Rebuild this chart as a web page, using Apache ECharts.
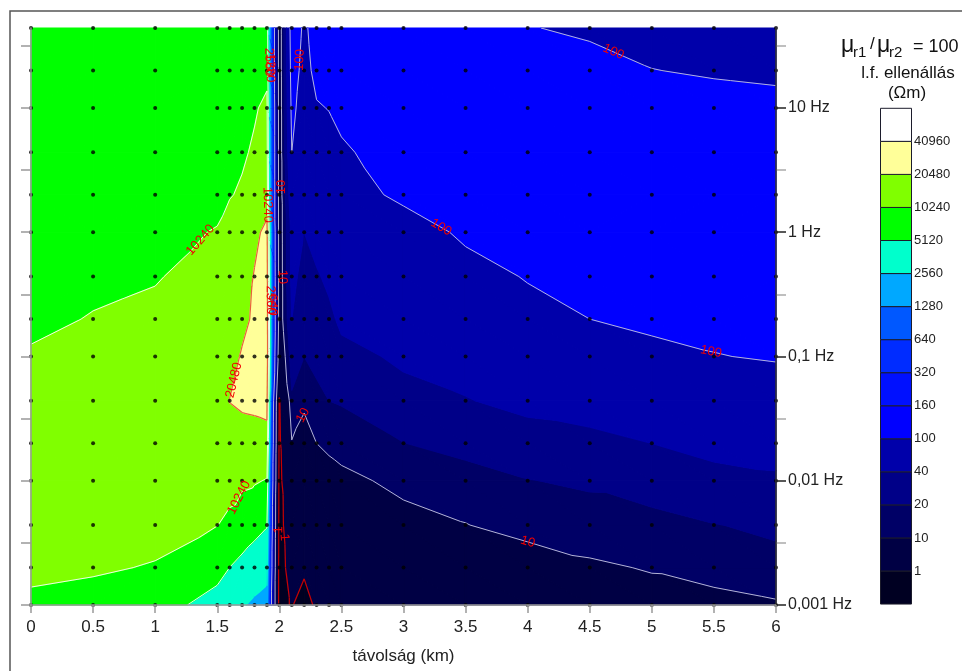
<!DOCTYPE html>
<html>
<head>
<meta charset="utf-8">
<script src="https://cdn.jsdelivr.net/npm/echarts@6/dist/echarts.min.js"></script>
<style>
  html, body { margin: 0; padding: 0; background: #ffffff; }
  #chart { width: 962px; height: 671px; }
</style>
</head>
<body>
<div id="chart"></div>
<script>
// Station distances along the profile (km)
const distances = [0, 0.5, 1, 1.5, 1.6, 1.7, 1.8, 1.9, 2.0, 2.1, 2.2, 2.3, 2.4, 2.5, 3, 3.5, 4, 4.5, 5, 5.5, 6];
// Sounding frequencies (Hz), lowest first
const frequencies = [0.001, 0.002, 0.0044, 0.01, 0.02, 0.044, 0.1, 0.2, 0.44, 1, 2, 4.4, 10, 20, 44];

// Apparent resistivity (Ohm m) at every station, one array per frequency
const rho_f0001 = [9750, 9480, 8500, 3200, 2900, 2700, 2300, 2000, 0.63, 1.12, 0.45, 1.41, 1.8, 2.2, 3.5, 4.5, 4.5, 6.3, 7.6, 7.8, 9.2];
const rho_f0002 = [10800, 10500, 10100, 7800, 5100, 4200, 3600, 3200, 0.63, 1.6, 1.41, 2, 2.5, 3.2, 5, 6.3, 6.7, 9, 10.5, 13.2, 15.8];
const rho_f00044 = [11000, 11300, 11000, 10300, 9500, 7800, 6300, 5300, 0.68, 2.2, 2, 3.2, 4, 5, 7.4, 9.8, 13, 14.3, 14.6, 19.5, 23];
const rho_f001 = [11500, 11800, 12000, 11800, 11500, 11200, 10800, 9900, 0.71, 4, 4, 5.6, 6.9, 7.9, 12.6, 14.5, 19.5, 22.4, 32, 35.5, 38];
const rho_f002 = [11500, 12000, 13000, 14500, 15500, 16000, 16500, 17000, 0.79, 9.5, 7.9, 10, 12, 14, 19.7, 26, 32, 34, 40, 45, 46];
const rho_f0044 = [12000, 12500, 13500, 15000, 20800, 22500, 23000, 24000, 0.9, 18, 11, 16, 20, 21, 35, 39, 46, 52, 60, 68, 71];
const rho_f01 = [10900, 11500, 12500, 14500, 15500, 22000, 26000, 32000, 4, 28, 20, 25, 28, 35, 43, 49, 63, 76, 89, 98, 105];
const rho_f02 = [9000, 10560, 11500, 13500, 14500, 17000, 23000, 30000, 6, 40, 25, 32, 36, 44, 51, 63, 81, 100, 110, 117, 117];
const rho_f044 = [8500, 9000, 9900, 12500, 13000, 14000, 21500, 28000, 6, 48, 32, 38, 44, 52, 60, 79, 104, 126, 132, 135, 132];
const rho_f1 = [8000, 8000, 9000, 10500, 13000, 16000, 17000, 25000, 6, 50, 40, 48, 52, 60, 72, 112, 132, 151, 151, 148, 145];
const rho_f2 = [8100, 8200, 8400, 9000, 9900, 11000, 12000, 14000, 6, 71, 50, 63, 66, 74, 115, 141, 155, 155, 155, 151, 148];
const rho_f44 = [8200, 8300, 8500, 8800, 9100, 9500, 11000, 12500, 6, 100, 60, 76, 79, 92, 135, 155, 155, 151, 145, 141, 138];
const rho_f10 = [8300, 8400, 8500, 8800, 9000, 9300, 9700, 11500, 6, 120, 71, 95, 102, 117, 145, 148, 145, 138, 126, 120, 115];
const rho_f20 = [8200, 8200, 8300, 8400, 8500, 8600, 8700, 8900, 6, 141, 79, 120, 126, 135, 138, 135, 126, 117, 101, 95, 91];
const rho_f440 = [8000, 8000, 8100, 8100, 8200, 8200, 8300, 8000, 6, 158, 89, 132, 132, 126, 126, 120, 102, 93, 83, 79, 76];

// Contour levels (Ohm m) and the fill of each band between them, lowest band first
const levels = [1, 10, 20, 40, 100, 160, 320, 640, 1280, 2560, 5120, 10240, 20480, 40960];
const bandColors = ['#000022', '#000044', '#000066', '#000088', '#0000aa', '#0000ff', '#0010ff',
  '#002cff', '#0058ff', '#00a8ff', '#00ffcc', '#00ff00', '#80ff00', '#ffff99', '#ffffff'];

// Frequency axis labels at each decade
const decadeExponents = [-3, -2, -1, 0, 1];
const decadeLabels = ['0,001 Hz', '0,01 Hz', '0,1 Hz', '1 Hz', '10 Hz'];

// Contour label anchors: [distance km, frequency Hz, level]
const contourLabels = [
  [4.69, 28.2, 100], [3.29, 1.04, 100], [5.48, 0.113, 100], [2.18, 24.3, 100],
  [4.0, 0.00321, 10], [2.15, 0.0351, 10], [2.03, 2.31, 10], [2.03, 0.436, 10],
  [1.345, 0.897, 10240], [1.707, 0.00675, 10240], [1.917, 1.66, 10240],
  [1.627, 0.0647, 20480], [2.0, 0.00402, 1], [2.06, 0.00352, 1],
  [1.92, 23.4, 2560], [1.935, 21, 1280], [1.95, 0.285, 2560], [1.96, 0.26, 640]
];

// ---- field helpers -------------------------------------------------------
const rhoRows = [rho_f0001, rho_f0002, rho_f00044, rho_f001, rho_f002, rho_f0044, rho_f01,
  rho_f02, rho_f044, rho_f1, rho_f2, rho_f44, rho_f10, rho_f20, rho_f440];
const X = distances;
const Y = frequencies.map(f => Math.log10(f));
const LV = rhoRows.map(r => r.map(v => Math.log10(v)));
const LT = levels.map(v => Math.log10(v));

// split each station quad along the diagonal with the smaller jump
function diagAC(i, j) {
  const a = LV[j][i], b = LV[j][i + 1], c = LV[j + 1][i + 1], d = LV[j + 1][i];
  return Math.abs(a - c) <= Math.abs(b - d);
}
const triangles = [];
for (let j = 0; j < Y.length - 1; j++) {
  for (let i = 0; i < X.length - 1; i++) {
    const A = [i, j], B = [i + 1, j], C = [i + 1, j + 1], D = [i, j + 1];
    if (diagAC(i, j)) triangles.push([A, B, C], [A, C, D]);
    else triangles.push([A, B, D], [B, C, D]);
  }
}
function findCell(arr, v) {
  for (let k = 0; k < arr.length - 2; k++) if (v < arr[k + 1]) return k;
  return arr.length - 2;
}
// log-resistivity at (distance, log10 frequency), linear on the triangles
function field(x, y) {
  const i = findCell(X, x), j = findCell(Y, y);
  const u = (x - X[i]) / (X[i + 1] - X[i]), w = (y - Y[j]) / (Y[j + 1] - Y[j]);
  const a = LV[j][i], b = LV[j][i + 1], c = LV[j + 1][i + 1], d = LV[j + 1][i];
  if (diagAC(i, j)) {
    if (u >= w) return a + u * (b - a) + w * (c - b);
    return a + w * (d - a) + u * (c - d);
  }
  if (u + w <= 1) return a + u * (b - a) + w * (d - a);
  return c + (1 - u) * (d - c) + (1 - w) * (b - c);
}
function bandOf(v) {
  let b = 0;
  while (b < LT.length && v >= LT[b]) b++;
  return b;
}
function clip(poly, t, s) {
  const out = [];
  for (let n = 0; n < poly.length; n++) {
    const P = poly[n], Q = poly[(n + 1) % poly.length];
    const pin = s * (P.v - t) >= 0, qin = s * (Q.v - t) >= 0;
    if (pin) out.push(P);
    if (pin !== qin) {
      const r = (t - P.v) / (Q.v - P.v);
      out.push({ x: P.x + r * (Q.x - P.x), y: P.y + r * (Q.y - P.y), v: t });
    }
  }
  return out;
}
function triPoints(api, k) {
  return triangles[k].map(([i, j]) => {
    const p = api.coord([X[i], Y[j]]);
    return { x: p[0], y: p[1], v: LV[j][i] };
  });
}

// filled bands of one triangle
function renderFill(params, api) {
  const pts = triPoints(api, params.dataIndex);
  const vs = pts.map(p => p.v);
  const b0 = bandOf(Math.min(...vs)), b1 = bandOf(Math.max(...vs));
  const children = [];
  for (let b = b0; b <= b1; b++) {
    let poly = pts;
    if (b > 0) poly = clip(poly, LT[b - 1], 1);
    if (b < LT.length) poly = clip(poly, LT[b], -1);
    if (poly.length < 3) continue;
    children.push({
      type: 'polygon',
      shape: { points: poly.map(p => [p.x, p.y]) },
      style: { fill: bandColors[b], stroke: bandColors[b], lineWidth: 1.2, lineJoin: 'round' }
    });
  }
  return { type: 'group', children };
}

// drawn isolines and their strokes
const lineLevels = [1, 10, 100, 5120, 10240, 20480];
const lineStyles = {
  1: { stroke: '#c80000', lineWidth: 1.2 },
  10: { stroke: '#b4b4d4', lineWidth: 1 },
  100: { stroke: '#b4b4d8', lineWidth: 1 },
  5120: { stroke: '#e6fff0', lineWidth: 1 },
  10240: { stroke: '#e6ffe6', lineWidth: 1 },
  20480: { stroke: '#e8603c', lineWidth: 1.2 }
};
function renderLines(params, api) {
  const pts = triPoints(api, params.dataIndex);
  const children = [];
  lineLevels.forEach(lv => {
    const t = Math.log10(lv);
    const cross = [];
    for (let n = 0; n < 3; n++) {
      const P = pts[n], Q = pts[(n + 1) % 3];
      if ((P.v >= t) !== (Q.v >= t)) {
        const r = (t - P.v) / (Q.v - P.v);
        cross.push([P.x + r * (Q.x - P.x), P.y + r * (Q.y - P.y)]);
      }
    }
    if (cross.length === 2) {
      children.push({
        type: 'line',
        shape: { x1: cross[0][0], y1: cross[0][1], x2: cross[1][0], y2: cross[1][1] },
        style: Object.assign({ fill: null }, lineStyles[lv])
      });
    }
  });
  return { type: 'group', children };
}

// level label placed on its isoline and turned along it
function renderLabel(params, api) {
  const [x0, f0, lv] = contourLabels[params.dataIndex];
  const t = Math.log10(lv);
  const o = api.coord([0, 0]), e = api.coord([1, 1]);
  const sx = e[0] - o[0], sy = e[1] - o[1];
  const grad = (x, y) => {
    const h = 1e-3;
    return [(field(x + h, y) - field(x - h, y)) / (2 * h) / sx,
            (field(x, y + h) - field(x, y - h)) / (2 * h) / sy];
  };
  let x = x0, y = Math.log10(f0);
  for (let it = 0; it < 12; it++) {
    const g = grad(x, y), f = field(x, y) - t, g2 = g[0] * g[0] + g[1] * g[1];
    if (g2 < 1e-14) break;
    let dx = -f * g[0] / g2, dy = -f * g[1] / g2;
    const len = Math.hypot(dx, dy);
    if (len > 3) { dx *= 3 / len; dy *= 3 / len; }
    x += dx / sx; y += dy / sy;
  }
  const g = grad(x, y);
  let ang = Math.atan2(g[0], g[1]);
  if (ang > Math.PI / 2) ang -= Math.PI;
  if (ang <= -Math.PI / 2) ang += Math.PI;
  const p = api.coord([x, y]);
  return {
    type: 'text', x: p[0], y: p[1], rotation: ang,
    style: { text: String(lv), fill: '#f00000', fontSize: 13, fontFamily: 'Liberation Sans, Arial, sans-serif',
             align: 'center', verticalAlign: 'middle' }
  };
}

// ---- chart ----------------------------------------------------------------
const yMin = -3, yMax = Math.log10(frequencies[frequencies.length - 1]);
const triData = triangles.map(t => [
  (X[t[0][0]] + X[t[1][0]] + X[t[2][0]]) / 3,
  (Y[t[0][1]] + Y[t[1][1]] + Y[t[2][1]]) / 3
]);
const stationData = [];
Y.forEach(y => X.forEach(x => stationData.push([x, y])));
const halfDecades = [];
for (let v = -3; v <= 1.5 + 1e-9; v += 0.5) halfDecades.push(v);

// legend: colour bar built from the levels
const legendTop = 108.3, legendStep = 33.05, legendX = 880.5, legendW = 31;
const legendItems = [];
bandColors.forEach((c, b) => {
  legendItems.push({
    type: 'rect',
    shape: { x: legendX, y: legendTop + (bandColors.length - 1 - b) * legendStep, width: legendW, height: legendStep },
    style: { fill: c, stroke: '#1c1c2c', lineWidth: 1 }
  });
});
const font = 'Liberation Sans, Arial, sans-serif';
levels.forEach((lv, m) => {
  legendItems.push({
    type: 'text',
    x: 914, y: legendTop + (levels.length - m) * legendStep,
    style: { text: String(lv), fontSize: 13, fontFamily: font,
             fill: '#222', align: 'left', verticalAlign: 'middle' }
  });
});
const titleItems = [
  { type: 'text', x: 841, y: 45.5, style: { text: 'μ', fontSize: 23, fontFamily: font, fill: '#111', verticalAlign: 'middle' } },
  { type: 'text', x: 853, y: 53, style: { text: 'r1', fontSize: 15, fontFamily: font, fill: '#111', verticalAlign: 'middle' } },
  { type: 'text', x: 870, y: 44, style: { text: '/', fontSize: 17, fontFamily: font, fill: '#111', verticalAlign: 'middle' } },
  { type: 'text', x: 877, y: 45.5, style: { text: 'μ', fontSize: 23, fontFamily: font, fill: '#111', verticalAlign: 'middle' } },
  { type: 'text', x: 889, y: 53, style: { text: 'r2', fontSize: 15, fontFamily: font, fill: '#111', verticalAlign: 'middle' } },
  { type: 'text', x: 913, y: 47, style: { text: '= 100', fontSize: 18, fontFamily: font, fill: '#111', verticalAlign: 'middle' } },
  { type: 'text', x: 908, y: 73, style: { text: 'l.f. ellenállás', fontSize: 17, fontFamily: font, fill: '#111', align: 'center', verticalAlign: 'middle' } },
  { type: 'text', x: 907, y: 93, style: { text: '(Ωm)', fontSize: 17, fontFamily: font, fill: '#111', align: 'center', verticalAlign: 'middle' } }
];

const chart = echarts.init(document.getElementById('chart'), null, { renderer: 'canvas' });
chart.setOption({
  animation: false,
  backgroundColor: '#ffffff',
  grid: { left: 31, top: 28, width: 745, height: 577, containLabel: false },
  xAxis: {
    type: 'value', min: 0, max: 6, interval: 0.5, z: 10,
    axisLine: { show: true, onZero: false, lineStyle: { color: '#999', width: 1.5 } },
    axisTick: { show: true, length: 8, lineStyle: { color: '#999', width: 1.5 } },
    axisLabel: { fontSize: 17, color: '#222', fontFamily: font, margin: 14 },
    splitLine: { show: false },
    name: 'távolság (km)', nameLocation: 'middle', nameGap: 43,
    nameTextStyle: { fontSize: 17, color: '#222', fontFamily: font }
  },
  yAxis: [
    {
      type: 'value', position: 'right', min: yMin, max: yMax, z: 10,
      axisLine: { show: true, onZero: false, lineStyle: { color: '#333', width: 1.5 } },
      axisTick: { show: true, length: 10, customValues: decadeExponents, lineStyle: { color: '#222', width: 1.5 } },
      axisLabel: {
        customValues: decadeExponents, fontSize: 16, color: '#222', fontFamily: font, margin: 12,
        formatter: v => decadeLabels[decadeExponents.indexOf(Math.round(v))] || ''
      },
      splitLine: { show: false }
    },
    {
      type: 'value', position: 'right', min: yMin, max: yMax, z: 9,
      axisLine: { show: false, onZero: false },
      axisTick: { show: true, length: 10, customValues: halfDecades.filter(v => v % 1 !== 0), lineStyle: { color: '#aaa', width: 1.5 } },
      axisLabel: { show: false },
      splitLine: { show: false }
    },
    {
      type: 'value', position: 'left', min: yMin, max: yMax, z: 10,
      axisLine: { show: true, onZero: false, lineStyle: { color: '#999', width: 1.5 } },
      axisTick: { show: true, length: 10, customValues: halfDecades, lineStyle: { color: '#999', width: 1.5 } },
      axisLabel: { show: false },
      splitLine: { show: false }
    }
  ],
  series: [
    { type: 'custom', name: 'bands', coordinateSystem: 'cartesian2d', xAxisIndex: 0, yAxisIndex: 0,
      data: triData, renderItem: renderFill, silent: true, z: 1 },
    { type: 'custom', name: 'isolines', coordinateSystem: 'cartesian2d', xAxisIndex: 0, yAxisIndex: 0,
      data: triData, renderItem: renderLines, silent: true, z: 2 },
    { type: 'scatter', name: 'stations', xAxisIndex: 0, yAxisIndex: 0, data: stationData,
      symbolSize: 4, itemStyle: { color: '#000' }, silent: true, z: 3 },
    { type: 'custom', name: 'levels', coordinateSystem: 'cartesian2d', xAxisIndex: 0, yAxisIndex: 0,
      data: contourLabels.map(l => [l[0], Math.log10(l[1])]), renderItem: renderLabel, silent: true, z: 4 }
  ],
  graphic: [
    { type: 'rect', shape: { x: 10, y: 11, width: 1000, height: 700 }, style: { fill: null, stroke: '#555', lineWidth: 1.5 }, z: 100 },
    { type: 'group', children: legendItems.concat(titleItems), z: 100 }
  ]
});
</script>
</body>
</html>
